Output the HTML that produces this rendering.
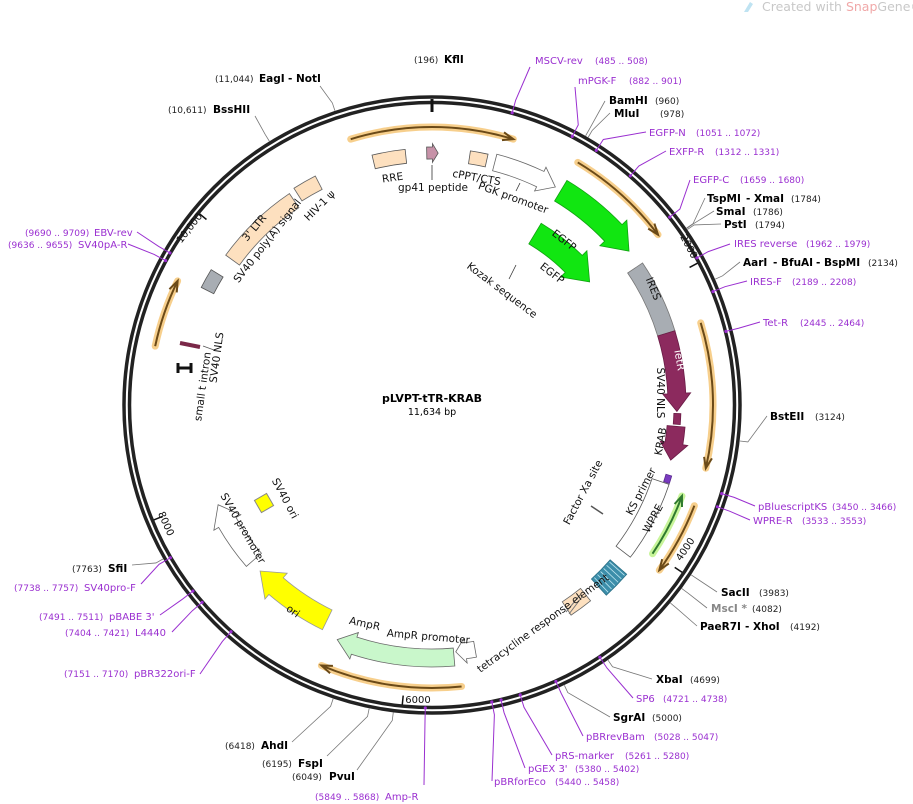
<!DOCTYPE html>
<html><head><meta charset="utf-8"><style>
html,body{margin:0;padding:0;background:#fff}
svg{display:block;font-family:"DejaVu Sans","Liberation Sans",sans-serif}
.n{font-size:9px;fill:#222}
.b{font-size:10.5px;font-weight:bold;fill:#000}
.p{font-size:10px;fill:#9a2fd0}
.pn{font-size:9px;fill:#9a2fd0}
.f{font-size:10.5px;fill:#111}
</style></head><body>
<svg id="s" width="913" height="804" viewBox="0 0 913 804" xmlns="http://www.w3.org/2000/svg">
<g id="shapes"></g>
<g id="leaders"></g>
<text x="762" y="11" style="font-size:12.5px;fill:#c8c8c8">Created with <tspan fill="#f0a8a8">Snap</tspan>Gene®</text>
<path d="M744 12 L750 2 L753 4 L748 12 Z" fill="#bfe3f2"/>
<text x="432" y="402" text-anchor="middle" style="font-size:11px;font-weight:bold">pLVPT-tTR-KRAB</text>
<text x="432" y="415" text-anchor="middle" style="font-size:9.5px">11,634 bp</text>
<!-- outer labels -->
<text x="414" y="63" class="n">(196)</text><text x="444" y="63" class="b">KflI</text>
<text x="215" y="82" class="n">(11,044)</text><text x="259" y="82" class="b">EagI</text><text x="288" y="82" class="b">- NotI</text>
<text x="168" y="113" class="n">(10,611)</text><text x="213" y="113" class="b">BssHII</text>
<text x="535" y="64" class="p">MSCV-rev</text><text x="595" y="64" class="pn">(485 .. 508)</text>
<text x="578" y="84" class="p">mPGK-F</text><text x="629" y="84" class="pn">(882 .. 901)</text>
<text x="609" y="104" class="b">BamHI</text><text x="655" y="104" class="n">(960)</text>
<text x="614" y="117" class="b">MluI</text><text x="660" y="117" class="n">(978)</text>
<text x="649" y="136" class="p">EGFP-N</text><text x="696" y="136" class="pn">(1051 .. 1072)</text>
<text x="669" y="155" class="p">EXFP-R</text><text x="715" y="155" class="pn">(1312 .. 1331)</text>
<text x="693" y="183" class="p">EGFP-C</text><text x="740" y="183" class="pn">(1659 .. 1680)</text>
<text x="707" y="202" class="b">TspMI</text><text x="746" y="202" class="b">- XmaI</text><text x="791" y="202" class="n">(1784)</text>
<text x="716" y="215" class="b">SmaI</text><text x="753" y="215" class="n">(1786)</text>
<text x="724" y="228" class="b">PstI</text><text x="755" y="228" class="n">(1794)</text>
<text x="734" y="247" class="p">IRES reverse</text><text x="806" y="247" class="pn">(1962 .. 1979)</text>
<text x="743" y="266" class="b">AarI</text><text x="773" y="266" class="b">- BfuAI</text><text x="816" y="266" class="b">- BspMI</text><text x="868" y="266" class="n">(2134)</text>
<text x="750" y="285" class="p">IRES-F</text><text x="792" y="285" class="pn">(2189 .. 2208)</text>
<text x="763" y="326" class="p">Tet-R</text><text x="800" y="326" class="pn">(2445 .. 2464)</text>
<text x="770" y="420" class="b">BstEII</text><text x="815" y="420" class="n">(3124)</text>
<text x="758" y="510" class="p">pBluescriptKS</text><text x="832" y="510" class="pn">(3450 .. 3466)</text>
<text x="753" y="524" class="p">WPRE-R</text><text x="802" y="524" class="pn">(3533 .. 3553)</text>
<text x="721" y="596" class="b">SacII</text><text x="759" y="596" class="n">(3983)</text>
<text x="711" y="612" class="b" style="fill:#888">MscI *</text><text x="752" y="612" class="n">(4082)</text>
<text x="700" y="630" class="b">PaeR7I</text><text x="745" y="630" class="b">- XhoI</text><text x="790" y="630" class="n">(4192)</text>
<text x="656" y="683" class="b">XbaI</text><text x="690" y="683" class="n">(4699)</text>
<text x="636" y="702" class="p">SP6</text><text x="663" y="702" class="pn">(4721 .. 4738)</text>
<text x="613" y="721" class="b">SgrAI</text><text x="652" y="721" class="n">(5000)</text>
<text x="586" y="740" class="p">pBRrevBam</text><text x="654" y="740" class="pn">(5028 .. 5047)</text>
<text x="555" y="759" class="p">pRS-marker</text><text x="625" y="759" class="pn">(5261 .. 5280)</text>
<text x="528" y="772" class="p">pGEX 3'</text><text x="575" y="772" class="pn">(5380 .. 5402)</text>
<text x="494" y="785" class="p">pBRforEco</text><text x="555" y="785" class="pn">(5440 .. 5458)</text>
<text x="385" y="800" class="p">Amp-R</text><text x="315" y="800" class="pn">(5849 .. 5868)</text>
<text x="329" y="780" class="b">PvuI</text><text x="292" y="780" class="n">(6049)</text>
<text x="298" y="767" class="b">FspI</text><text x="262" y="767" class="n">(6195)</text>
<text x="261" y="749" class="b">AhdI</text><text x="225" y="749" class="n">(6418)</text>
<text x="134" y="677" class="p">pBR322ori-F</text><text x="64" y="677" class="pn">(7151 .. 7170)</text>
<text x="135" y="636" class="p">L4440</text><text x="65" y="636" class="pn">(7404 .. 7421)</text>
<text x="109" y="620" class="p">pBABE 3'</text><text x="39" y="620" class="pn">(7491 .. 7511)</text>
<text x="84" y="591" class="p">SV40pro-F</text><text x="14" y="591" class="pn">(7738 .. 7757)</text>
<text x="108" y="572" class="b">SfiI</text><text x="72" y="572" class="n">(7763)</text>
<text x="78" y="248" class="p">SV40pA-R</text><text x="8" y="248" class="pn">(9636 .. 9655)</text>
<text x="94" y="236" class="p">EBV-rev</text><text x="25" y="236" class="pn">(9690 .. 9709)</text>
<!-- feature labels -->
<text class="f" transform="translate(393,181) rotate(-8)" text-anchor="middle">RRE</text>
<text class="f" x="433" y="191" text-anchor="middle">gp41 peptide</text>
<line x1="432" y1="165" x2="432" y2="180" stroke="#333" stroke-width="0.8"/>
<text class="f" transform="translate(476,181) rotate(10)" text-anchor="middle">cPPT/CTS</text>
<text class="f" transform="translate(512,201) rotate(20)" text-anchor="middle">PGK promoter</text>
<line x1="520" y1="183" x2="516" y2="191" stroke="#333" stroke-width="0.8"/>
<text class="f" transform="translate(562,243) rotate(38)" text-anchor="middle">EGFP</text>
<text class="f" transform="translate(550,276) rotate(38)" text-anchor="middle">EGFP</text>
<text class="f" transform="translate(500,293) rotate(37)" text-anchor="middle">Kozak sequence</text>
<line x1="516" y1="265" x2="509" y2="279" stroke="#333" stroke-width="0.8"/>
<text class="f" transform="translate(650,290) rotate(68)" text-anchor="middle">IRES</text>
<text class="f" transform="translate(676,360) rotate(80)" text-anchor="middle" style="fill:#fff">TetR</text>
<text class="f" transform="translate(657,393) rotate(90)" text-anchor="middle">SV40 NLS</text>
<text class="f" transform="translate(664,442) rotate(-80)" text-anchor="middle">KRAB</text>
<text class="f" transform="translate(644,493) rotate(-62)" text-anchor="middle">KS primer</text>
<text class="f" transform="translate(656,520) rotate(-62)" text-anchor="middle">WPRE</text>
<text class="f" transform="translate(586,494) rotate(-62)" text-anchor="middle">Factor Xa site</text>
<line x1="591" y1="506" x2="603" y2="514" stroke="#555" stroke-width="1.5"/>
<text class="f" transform="translate(545,626) rotate(-36)" text-anchor="middle">tetracycline response element</text>
<text class="f" transform="translate(428,640) rotate(5)" text-anchor="middle">AmpR promoter</text>
<text class="f" transform="translate(364,627) rotate(12)" text-anchor="middle">AmpR</text>
<text class="f" transform="translate(291,614) rotate(36)" text-anchor="middle">ori</text>
<text class="f" transform="translate(240,530) rotate(60)" text-anchor="middle">SV40 promoter</text>
<text class="f" transform="translate(282,500) rotate(62)" text-anchor="middle">SV40 ori</text>
<text class="f" transform="translate(206,387) rotate(-82)" text-anchor="middle">small t intron</text>
<text class="f" transform="translate(220,358) rotate(-82)" text-anchor="middle">SV40 NLS</text>
<line x1="203" y1="346" x2="214" y2="350" stroke="#555" stroke-width="0.8"/>
<text class="f" transform="translate(270,243) rotate(-52)" text-anchor="middle">SV40 poly(A) signal</text>
<text class="f" transform="translate(257,230) rotate(-50)" text-anchor="middle">3' LTR</text>
<text class="f" transform="translate(322,208) rotate(-45)" text-anchor="middle">HIV-1 ψ</text>
<text class="f" style="font-size:10px" transform="translate(686,248) rotate(62)" text-anchor="middle">2000</text>
<text class="f" style="font-size:10px" transform="translate(688,551) rotate(-56)" text-anchor="middle">4000</text>
<text class="f" style="font-size:10px" x="418" y="703" text-anchor="middle">6000</text>
<text class="f" style="font-size:10px" transform="translate(163,525) rotate(66)" text-anchor="middle">8000</text>
<text class="f" style="font-size:10px" transform="translate(192,230) rotate(-52)" text-anchor="middle">10,000</text>
</svg>
<script>
var C=[432,405],N=11634,NS="http://www.w3.org/2000/svg";
function P(a,r){a=a*Math.PI/180;return [C[0]+r*Math.sin(a),C[1]-r*Math.cos(a)];}
function A(bp){return bp/N*360;}
function el(g,t,at){var e=document.createElementNS(NS,t);for(var k in at)e.setAttribute(k,at[k]);document.getElementById(g).appendChild(e);return e;}
function arc(a1,a2,r){var p=P(a1,r),q=P(a2,r),l=Math.abs(a2-a1)>180?1:0,sw=a2>a1?1:0;return "M"+p+" A"+r+" "+r+" 0 "+l+" "+sw+" "+q;}
function band(a1,a2,r1,r2,head){
  var h=0;
  if(head){h=(a2>a1?1:-1)*Math.min(Math.abs(a2-a1)*0.5,(r2-r1)*1.0/((r1+r2)/2)*180/Math.PI);}
  var e=a2-h,mid=(r1+r2)/2,ex=(r2-r1)/2*0.55;
  var d="M"+P(a1,r2)+" A"+r2+" "+r2+" 0 0 "+(e>a1?1:0)+" "+P(e,r2);
  if(head){d+=" L"+P(e,r2+ex)+" L"+P(a2,mid)+" L"+P(e,r1-ex);}
  d+=" L"+P(e,r1)+" A"+r1+" "+r1+" 0 0 "+(e>a1?0:1)+" "+P(a1,r1)+" Z";
  return d;}
function feat(a1,a2,r1,r2,head,fill,stroke){el("shapes","path",{d:band(a1,a2,r1,r2,head),fill:fill,stroke:stroke||"#555","stroke-width":"0.8"});}
function orange(a1,a2,r){
  el("shapes","path",{d:arc(a1,a2,r),fill:"none",stroke:"#f7cf8c","stroke-width":"7","stroke-linecap":"round"});
  el("shapes","path",{d:arc(a1,a2,r),fill:"none",stroke:"#6b4a18","stroke-width":"2"});
  var s=a2>a1?1:-1,t=P(a2,r),b1=P(a2-s*2.2,r+4),b2=P(a2-s*2.2,r-4);
  el("shapes","path",{d:"M"+b1+" L"+t+" L"+b2,fill:"none",stroke:"#6b4a18","stroke-width":"2"});
}
orange(-17,17,278);orange(31,53,283);orange(73,103,281);orange(111,126,281);orange(174,203,283);orange(282,296,283);
el("shapes","path",{d:arc(124,110,266),fill:"none",stroke:"#c8f59a","stroke-width":"7","stroke-linecap":"round"});
el("shapes","path",{d:arc(124,110,266),fill:"none",stroke:"#2f7a2f","stroke-width":"2"});
(function(){var t=P(110,266),b1=P(112.2,270),b2=P(112.2,262);el("shapes","path",{d:"M"+b1+" L"+t+" L"+b2,fill:"none",stroke:"#2f7a2f","stroke-width":"2"});})();
el("shapes","circle",{cx:432,cy:405,r:308,fill:"none",stroke:"#222","stroke-width":"3.5"});
el("shapes","circle",{cx:432,cy:405,r:302.5,fill:"none",stroke:"#222","stroke-width":"3.5"});
el("shapes","line",{x1:432,y1:99,x2:432,y2:112,stroke:"#111","stroke-width":"3"});
[2000,4000,6000,8000,10000].forEach(function(b){var a=A(b),p=P(a,301),q=P(a,292);el("shapes","line",{x1:p[0],y1:p[1],x2:q[0],y2:q[1],stroke:"#111","stroke-width":"1.5"});});
feat(-13.5,-6,243,257,0,"#fde0bf");
feat(-1.2,1.4,246,258,1,"#c792a8");
feat(8.6,12.6,244,257,0,"#fde0bf");
feat(14.5,29.5,242,259,1,"#fff","#666");
feat(31,52,238,262,1,"#11e611","#11a011");
feat(31,52,188,212,1,"#11e611","#11a011");
feat(56,73,236,254,0,"#a8adb3","#777");
feat(73,91.5,236,254,1,"#8c2a5e","#6a1c46");
feat(92,94.5,242,249,0,"#8c2a5e","#6a1c46");
feat(95,103,236,254,1,"#8c2a5e","#6a1c46");
feat(106.5,108.3,244,250,0,"#7a3bc0","#5a2a90");
feat(108.5,127.5,232,250,0,"#fff","#555");
feat(131,137.5,236,258,0,"#3c8eaa","#2a6f85");
feat(141,146.5,236,252,0,"#fde0bf","#666");
feat(170,174.5,240,256,1,"#fff","#666");
feat(175,202,244,262,1,"#c9f7cb","#666");
feat(206,226,228,250,1,"#ffff00","#999");
feat(229,245,226,246,1,"#fff","#666");
feat(297,301.5,245,259,0,"#a8adb3","#555");
feat(306,326,238,255,0,"#fde0bf","#666");
feat(327.5,333,242,257,0,"#fde0bf","#666");
for(var i=0;i<6;i++){var a=131.5+i*1.05;el("shapes","path",{d:"M"+P(a,237)+" L"+P(a,257),stroke:"#bfe6f0","stroke-width":"0.8"});}
el("shapes","rect",{x:-7,y:-7,width:14,height:14,fill:"#ffff00",stroke:"#888",transform:"translate(264,503) rotate(-30)"});
el("shapes","path",{d:"M178 363 L178 373 M191 363 L191 373 M178 368 L191 368",stroke:"#111","stroke-width":"3",fill:"none"});
el("shapes","path",{d:"M180 343 L200 347",stroke:"#7a2848","stroke-width":"4"});
el("shapes","path",{d:"M566 612 L580 595 M569 614 L582 597",stroke:"#777","stroke-width":"1"});
function lead(bp,x,y,col,hook){var a=A(bp),p=P(a,hook?303:310),q=P(a,hook?303:318);
  if(hook){el("leaders","path",{d:"M"+p+" L"+P(a,316)+" L"+x+" "+y,fill:"none",stroke:col,"stroke-width":"1"});
    el("leaders","circle",{cx:p[0],cy:p[1],r:1.6,fill:col});}
  else el("leaders","path",{d:"M"+P(a,310)+" L"+q+" L"+x+" "+y,fill:"none",stroke:col,"stroke-width":"0.8"});}
var g="#777",pu="#9a2fd0";
lead(11044,320,86,g);lead(10611,255,116,g);
lead(496,530,67,pu,1);lead(891,575,87,pu,1);lead(960,605,101,g);lead(978,610,113,g);
lead(1061,646,132,pu,1);lead(1321,666,151,pu,1);lead(1670,690,180,pu,1);
lead(1784,705,198,g);lead(1786,714,211,g);lead(1794,721,224,g);
lead(1970,730,244,pu,1);lead(2134,740,262,g);lead(2198,747,281,pu,1);lead(2454,760,322,pu,1);
lead(3124,767,416,g);lead(3458,755,506,pu,1);lead(3543,750,520,pu,1);
lead(3983,717,592,g);lead(4082,707,608,g);lead(4192,697,626,g);
lead(4699,652,679,g);lead(4730,633,698,pu,1);lead(5000,610,717,g);lead(5037,583,736,pu,1);
lead(5270,552,755,pu,1);lead(5391,525,768,pu,1);lead(5449,492,781,pu,1);
lead(5858,424,785,pu,1);lead(6049,357,770,g);lead(6195,327,756,g);lead(6418,292,742,g);
lead(7160,200,674,pu,1);lead(7412,172,632,pu,1);lead(7501,160,615,pu,1);lead(7747,141,584,pu,1);lead(7763,132,565,g);
lead(9645,128,244,pu,1);lead(9699,137,232,pu,1);
</script>
</body></html>
